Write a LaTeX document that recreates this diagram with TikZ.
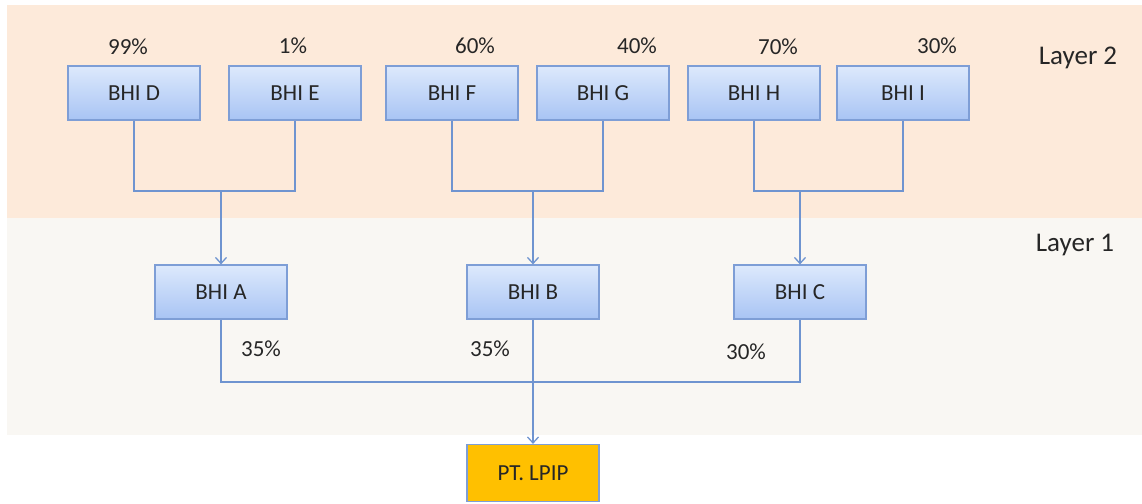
\documentclass[tikz,border=0pt]{standalone}
\usepackage{fontspec}
\setmainfont{Carlito}
\usepackage{tikz}
\usetikzlibrary{positioning, calc, arrows.meta}
\definecolor{peach}{HTML}{FDEADA}
\definecolor{paper}{HTML}{F9F7F3}
\definecolor{boxtop}{HTML}{DDE9FC}
\definecolor{boxbot}{HTML}{A8C4F4}
\definecolor{boxline}{HTML}{7E9ED6}
\definecolor{wire}{HTML}{6F94D0}
\definecolor{gold}{HTML}{FFC000}
\definecolor{ink}{HTML}{262626}
\tikzset{
  bhi/.style={draw=boxline, line width=1.2pt, top color=boxtop, bottom color=boxbot,
    minimum width=132pt, minimum height=54pt, text=ink, font=\fontsize{23}{27}\selectfont},
  pct/.style={text=ink, font=\fontsize{23}{27}\selectfont},
  layer/.style={text=ink, font=\fontsize{27}{32}\selectfont},
  wire/.style={draw=wire, line width=1.3pt},
  tip/.style={-{Straight Barb[length=6pt, width=11pt]}}
}
\begin{document}
\begin{tikzpicture}[x=1pt, y=-1pt]
      \useasboundingbox (0,0) rectangle (1142,503);
      \fill[peach] (7,5) rectangle (1142,218);
      \fill[paper] (7,218) rectangle (1142,435);

      \node[layer] (L2) at (1078,58) {Layer 2};
      \node[layer] (L1) at (1075,245) {Layer 1};

      \node[bhi] (D) at (134,93) {BHI D};
      \node[bhi] (E) at (295,93) {BHI E};
      \node[bhi] (F) at (452,93) {BHI F};
      \node[bhi] (G) at (603,93) {BHI G};
      \node[bhi] (H) at (754,93) {BHI H};
      \node[bhi] (I) at (903,93) {BHI I};

      \node[pct] (pD) at (128,47) {99\%};
      \node[pct] (pE) at (293,46) {1\%};
      \node[pct] (pF) at (475,46) {60\%};
      \node[pct] (pG) at (637,46) {40\%};
      \node[pct] (pH) at (778,47) {70\%};
      \node[pct] (pI) at (937,46) {30\%};

      \node[bhi] (A) at (221,292) {BHI A};
      \node[bhi] (B) at (533,292) {BHI B};
      \node[bhi] (C) at (800,292) {BHI C};

      \node[pct] (pA) at (261,349) {35\%};
      \node[pct] (pB) at (490,349) {35\%};
      \node[pct] (pC) at (746,352) {30\%};

      \node[bhi, top color=gold, bottom color=gold, minimum height=57pt] (LPIP) at (533,473) {PT. LPIP};

      \coordinate (jA) at (221,191);
      \coordinate (jB) at (533,191);
      \coordinate (jC) at (800,191);
      \coordinate (jL) at (533,382);

      \draw[wire] (D.south) |- (jA) -| (E.south);
      \draw[wire] (F.south) |- (jB) -| (G.south);
      \draw[wire] (H.south) |- (jC) -| (I.south);
      \draw[wire, tip] (jA) -- (A.north);
      \draw[wire, tip] (jB) -- (B.north);
      \draw[wire, tip] (jC) -- (C.north);

      \draw[wire] (A.south) |- (jL) -| (C.south);
      \draw[wire] (B.south) -- (jL);
      \draw[wire, tip] (jL) -- (LPIP.north);
    \end{tikzpicture}
\end{document}
